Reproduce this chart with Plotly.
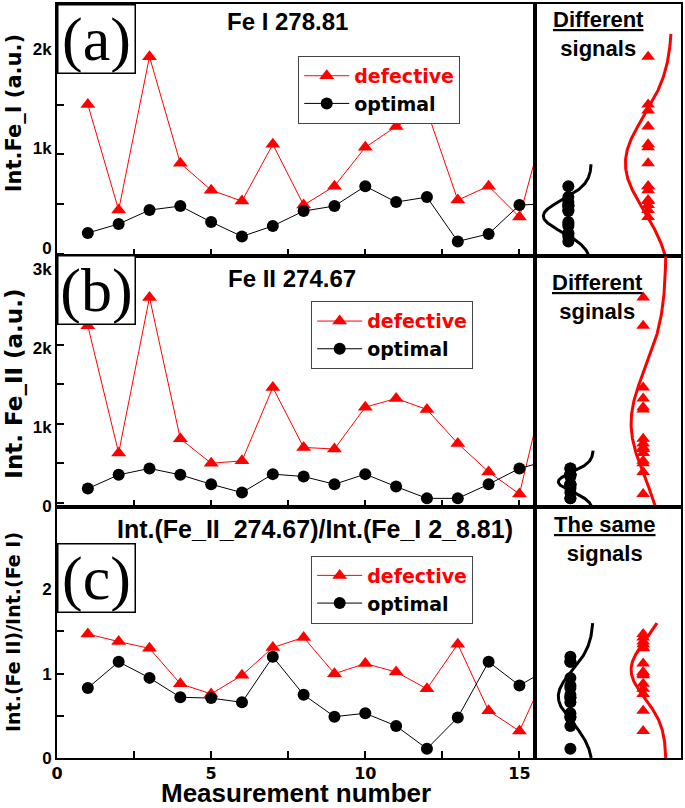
import numpy as np
import plotly.graph_objects as go

# ---------------- data ----------------
measurement = list(range(1, 17))
fe1_defective = [1500, 440, 1980, 910, 640, 530, 1100, 490, 680, 1070, 1280, 1440, 540, 680, 370, 1510]
fe1_optimal = [210, 300, 440, 480, 320, 175, 280, 430, 480, 680, 520, 570, 125, 200, 490, 505]
fe2_defective = [2240, 630, 2600, 810, 500, 530, 1460, 700, 680, 1210, 1320, 1180, 750, 390, 110, 1740]
fe2_optimal = [179, 353, 434, 353, 234, 128, 362, 332, 234, 362, 204, 55, 55, 234, 434, 540]
ratio_defective = [1.47, 1.38, 1.30, 0.88, 0.76, 0.98, 1.31, 1.43, 1.00, 1.12, 1.02, 0.82, 1.35, 0.56, 0.32, 1.12]
ratio_optimal = [0.83, 1.14, 0.95, 0.72, 0.71, 0.66, 1.20, 0.75, 0.49, 0.53, 0.38, 0.11, 0.48, 1.14, 0.86, 1.07]
n_fit = 15  # measurements shown in the distribution panels

x_tickvals = [0, 2.5, 5, 7.5, 10, 12.5, 15]
x_ticktext = ["0", "", "5", "", "10", "", "15"]
fe1_tickvals = [0, 500, 1000, 1500, 2000]
fe1_ticktext = ["0", "", "1k", "", "2k"]
fe2_tickvals = [0, 500, 1000, 1500, 2000, 2500, 3000]
fe2_ticktext = ["0", "", "1k", "", "2k", "", "3k"]
ratio_tickvals = [0, 0.5, 1, 1.5, 2, 2.5]
ratio_ticktext = ["0", "", "1", "", "2", ""]

# upper end of each fitted normal curve (value units)
fit_top_def = [2210, 3120, 1.6]
fit_top_opt = [900, 660, 1.6]

panel_titles = ["Fe I 278.81", "Fe II 274.67", "Int.(Fe_II_274.67)/Int.(Fe_I 2_8.81)"]
panel_letters = ["(a)", "(b)", "(c)"]
y_titles = ["Int.Fe_I (a.u.)", "Int. Fe_II (a.u.)", "Int.(Fe II)/Int.(Fe I)"]
side_texts = ["<u>Different</u><br>signals", "<u>Different</u><br>sginals", "<u>The same</u><br>signals"]
x_title = "Measurement number"

# ---------------- geometry helpers ----------------
W, H = 685, 808
L, R, T, B = 57, 2, 2, 50
PW, PH = W - L - R, H - T - B


def px_x(p):
    return (p - L) / PW


def px_y(p):
    return (H - B - p) / PH


RED = "#ff0000"
BLACK = "#000000"
SANS = "Liberation Sans, Arial, sans-serif"
DEJA = "DejaVu Sans, sans-serif"
SERIF = "Liberation Serif, Times New Roman, serif"

xm_dom = [0, px_x(537)]
xr_dom = [px_x(537), 1.0]
y_doms = [[px_y(255), 1.0], [px_y(506), px_y(255)], [0.0, px_y(506)]]
y_ranges = [[-25, 2510], [-50, 3120], [0, 2.98]]
y_ticks = [(fe1_tickvals, fe1_ticktext), (fe2_tickvals, fe2_ticktext), (ratio_tickvals, ratio_ticktext)]
y_label_shift = [-6, 3, 0]
series = [(fe1_defective, fe1_optimal), (fe2_defective, fe2_optimal), (ratio_defective, ratio_optimal)]

# style for distribution panels: marker x, curve baseline and amplitude
side_x_def = [0.774, 0.74, 0.74]
side_x_opt = [0.226, 0.24, 0.24]
curve_def = [(0.938, 0.32), (0.897, 0.24), (0.897, 0.24)]
curve_opt = [(0.384, 0.33), (0.397, 0.24), (0.397, 0.24)]

legend_pos = [(299, 54), (312, 300), (312, 555)]
letter_top = [2, 254, 542]
title_pos = [(288, 20, 24), (293, 277, 24), (316, 528, 25)]
side_pos = [(600, 32), (599, 296), (607, 538)]
ytitle_pos = [(112, 21), (383, 23), (632, 19)]

fig = go.Figure()
layout = dict(
    width=W, height=H,
    margin=dict(l=L, r=R, t=T, b=B),
    paper_bgcolor="white", plot_bgcolor="white",
    showlegend=True,
    annotations=[],
)

for i in range(3):
    xm = "x" if i == 0 else f"x{2 * i + 1}"
    ym = "y" if i == 0 else f"y{2 * i + 1}"
    xr = f"x{2 * i + 2}"
    yr = f"y{2 * i + 2}"
    leg = "legend" if i == 0 else f"legend{i + 1}"
    dvals, ovals = series[i]

    fig.add_trace(go.Scatter(
        x=measurement, y=dvals, mode="lines+markers", xaxis=xm, yaxis=ym,
        name=f"<span style='color:{RED}'>defective</span>", legend=leg,
        line=dict(color=RED, width=1),
        marker=dict(symbol="triangle-up", size=13, color=RED), cliponaxis=True))
    fig.add_trace(go.Scatter(
        x=measurement, y=ovals, mode="lines+markers", xaxis=xm, yaxis=ym,
        name="optimal", legend=leg,
        line=dict(color=BLACK, width=1),
        marker=dict(symbol="circle", size=12, color=BLACK), cliponaxis=True))

    # distribution panel
    d = np.array(dvals[:n_fit], dtype=float)
    o = np.array(ovals[:n_fit], dtype=float)
    for vals, top, (base, amp), col in ((d, fit_top_def[i], curve_def[i], RED),
                                        (o, fit_top_opt[i], curve_opt[i], BLACK)):
        mu, sd = vals.mean(), vals.std(ddof=1)
        yy = np.linspace(y_ranges[i][0], top, 300)
        xx = base - amp * np.exp(-0.5 * ((yy - mu) / sd) ** 2)
        fig.add_trace(go.Scatter(x=xx, y=yy, mode="lines", xaxis=xr, yaxis=yr,
                                 line=dict(color=col, width=3), showlegend=False,
                                 hoverinfo="skip"))
    fig.add_trace(go.Scatter(x=[side_x_opt[i]] * n_fit, y=o, mode="markers", xaxis=xr, yaxis=yr,
                             marker=dict(symbol="circle", size=12, color=BLACK), showlegend=False))
    fig.add_trace(go.Scatter(x=[side_x_def[i]] * n_fit, y=d, mode="markers", xaxis=xr, yaxis=yr,
                             marker=dict(symbol="triangle-up", size=12, color=RED), showlegend=False))

    axline = dict(showline=True, linecolor=BLACK, linewidth=2, mirror=True,
                  showgrid=False, zeroline=False)
    xkey = "xaxis" if i == 0 else f"xaxis{2 * i + 1}"
    ykey = "yaxis" if i == 0 else f"yaxis{2 * i + 1}"
    layout[xkey] = dict(domain=xm_dom, anchor=ym, range=[0, 15.52],
                        tickmode="array", tickvals=x_tickvals, ticktext=x_ticktext,
                        ticks="inside", ticklen=7, tickwidth=1.5, tickcolor=BLACK,
                        showticklabels=(i == 2),
                        tickfont=dict(family=DEJA, size=16, color=BLACK, weight="bold"),
                        **axline)
    tv, tt = y_ticks[i]
    layout[ykey] = dict(domain=y_doms[i], anchor=xm, range=y_ranges[i],
                        tickmode="array", tickvals=tv, ticktext=tt,
                        ticks="inside", ticklen=7, tickwidth=1.5, tickcolor=BLACK,
                        ticklabelshift=y_label_shift[i],
                        tickfont=dict(family=SANS, size=17, color=BLACK, weight="bold"),
                        **axline)
    layout[f"xaxis{2 * i + 2}"] = dict(domain=xr_dom, anchor=yr, range=[0, 1],
                                       showticklabels=False, ticks="", **axline)
    layout[f"yaxis{2 * i + 2}"] = dict(domain=y_doms[i], anchor=xr, range=y_ranges[i],
                                       showticklabels=False, ticks="", **axline)

    lx, ly = legend_pos[i]
    layout[leg] = dict(x=px_x(lx), y=px_y(ly), xanchor="left", yanchor="top",
                       bgcolor="white", bordercolor="#444444", borderwidth=1,
                       font=dict(family=DEJA, size=19, color=BLACK, weight="bold"),
                       itemwidth=45, tracegroupgap=0)

    ann = layout["annotations"]
    ann.append(dict(text=panel_letters[i], xref="paper", yref="paper",
                    x=0, y=px_y(letter_top[i]), xanchor="left", yanchor="top",
                    showarrow=False, width=76, height=67, borderpad=0,
                    bordercolor=BLACK, borderwidth=1.5, bgcolor="white",
                    font=dict(family=SERIF, size=62, color=BLACK)))
    tx, ty, ts = title_pos[i]
    ann.append(dict(text=panel_titles[i], xref="paper", yref="paper",
                    x=px_x(tx), y=px_y(ty), xanchor="center", yanchor="middle",
                    showarrow=False, font=dict(family=SANS, size=ts, color=BLACK, weight="bold")))
    sx, sy = side_pos[i]
    ann.append(dict(text=side_texts[i], xref="paper", yref="paper",
                    x=px_x(sx), y=px_y(sy), xanchor="center", yanchor="middle",
                    showarrow=False, font=dict(family=SANS, size=22, color=BLACK, weight="bold")))
    yc, ys = ytitle_pos[i]
    ann.append(dict(text=y_titles[i], xref="paper", yref="paper", textangle=-90,
                    x=px_x(13.5), y=px_y(yc), xanchor="center", yanchor="middle",
                    showarrow=False, font=dict(family=DEJA, size=ys, color=BLACK, weight="bold")))

layout["annotations"].append(dict(text=x_title, xref="paper", yref="paper",
                                  x=px_x(297), y=px_y(793), xanchor="center", yanchor="middle",
                                  showarrow=False, borderpad=0,
                                  font=dict(family=SANS, size=26, color=BLACK, weight="bold")))

fig.update_layout(**layout)
fig.write_html("out.html", config={"displayModeBar": False},
               post_script="document.body.style.margin='0';document.body.style.overflow='hidden';")
